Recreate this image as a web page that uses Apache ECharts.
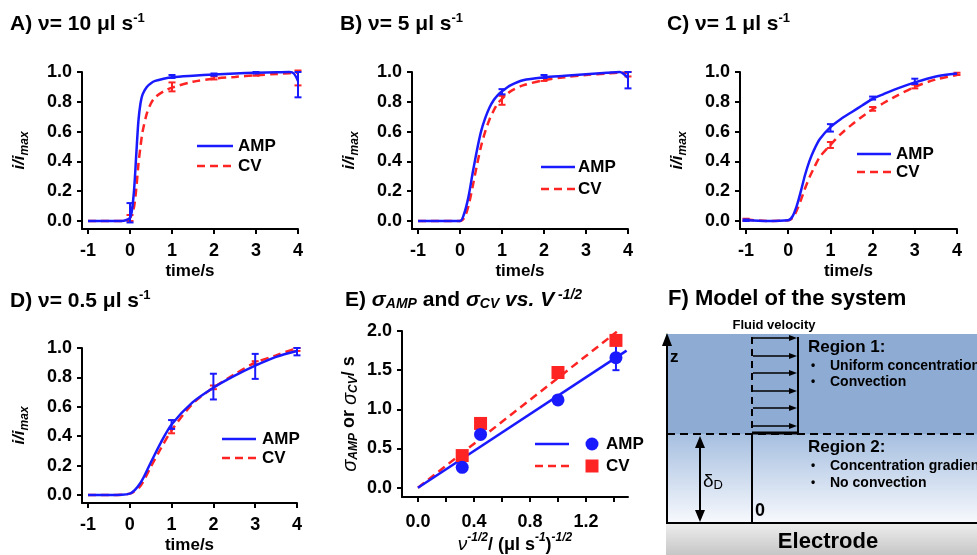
<!DOCTYPE html>
<html><head><meta charset="utf-8">
<script src="https://cdn.jsdelivr.net/npm/echarts@6/dist/echarts.min.js"></script>
<style>html,body{margin:0;padding:0;background:#fff}#c{width:977px;height:555px}</style>
</head><body><div id="c"></div>
<script>
// ---------- DATA ----------
const timeTicks = [-1, 0, 1, 2, 3, 4];
const ratioTicks = [0, 0.2, 0.4, 0.6, 0.8, 1.0];
const sigmaTicks = [0, 0.5, 1.0, 1.5, 2.0];
const invRootTicks = [0, 0.2, 0.4, 0.6, 0.8, 1.0, 1.2, 1.4];
const invRootLabels = [0, 0.4, 0.8, 1.2];

// Panel A: v = 10 ul/s
const tA   = [-1, -0.5, -0.2, -0.1, 0, 0.05, 0.1, 0.15, 0.2, 0.25, 0.3, 0.4, 0.5, 0.6, 0.8, 1, 1.5, 2, 2.5, 3, 3.5, 3.8, 3.9, 4];
const ampA = [0, 0, 0, 0.005, 0.02, 0.08, 0.22, 0.45, 0.67, 0.79, 0.85, 0.9, 0.925, 0.94, 0.955, 0.965, 0.975, 0.983, 0.99, 0.995, 0.998, 1.0, 0.99, 0.94];
const cvA  = [0, 0, 0, 0.003, 0.02, 0.05, 0.1, 0.22, 0.38, 0.5, 0.6, 0.72, 0.79, 0.83, 0.87, 0.895, 0.935, 0.955, 0.967, 0.978, 0.987, 0.992, 0.994, 0.995];
const ampErrA = [[0, -0.01, 0.12], [1, 0.96, 0.98], [2, 0.975, 0.99], [3, 0.99, 1.0], [4, 0.83, 1.0]];
const cvErrA  = [[0, 0.0, 0.04], [1, 0.87, 0.93], [2, 0.95, 0.97], [3, 0.975, 0.99], [4, 0.91, 1.01]];

// Panel B: v = 5 ul/s
const tB   = [-1, -0.5, 0, 0.1, 0.2, 0.3, 0.4, 0.5, 0.6, 0.7, 0.8, 0.9, 1, 1.2, 1.5, 2, 2.5, 3, 3.5, 3.8, 4];
const ampB = [0, 0, 0, 0.05, 0.16, 0.32, 0.47, 0.6, 0.69, 0.76, 0.81, 0.845, 0.87, 0.91, 0.945, 0.965, 0.975, 0.985, 0.995, 1.0, 0.96];
const cvB  = [0, 0, 0, 0.02, 0.1, 0.23, 0.37, 0.5, 0.6, 0.68, 0.74, 0.79, 0.82, 0.87, 0.91, 0.945, 0.965, 0.98, 0.99, 0.995, 0.995];
const ampErrB = [[1, 0.85, 0.885], [2, 0.96, 0.98], [4, 0.89, 1.0]];
const cvErrB  = [[1, 0.78, 0.84], [2, 0.94, 0.96], [4, 0.97, 1.0]];

// Panel C: v = 1 ul/s
const tC   = [-1, -0.5, 0, 0.1, 0.2, 0.3, 0.4, 0.5, 0.6, 0.75, 1, 1.25, 1.5, 1.75, 2, 2.25, 2.5, 3, 3.5, 4];
const ampC = [0.005, 0, 0.005, 0.03, 0.1, 0.2, 0.31, 0.4, 0.47, 0.55, 0.63, 0.685, 0.73, 0.775, 0.82, 0.85, 0.88, 0.93, 0.97, 0.99];
const cvC  = [0.01, 0, 0.005, 0.02, 0.07, 0.14, 0.22, 0.29, 0.35, 0.43, 0.51, 0.585, 0.645, 0.7, 0.75, 0.79, 0.83, 0.9, 0.95, 0.98];
const ampErrC = [[-1, 0.0, 0.01], [1, 0.6, 0.65], [2, 0.815, 0.835], [3, 0.92, 0.955]];
const cvErrC  = [[-1, 0.0, 0.015], [1, 0.49, 0.53], [2, 0.74, 0.765], [3, 0.89, 0.915], [4, 0.98, 0.995]];

// Panel D: v = 0.5 ul/s
const tD   = [-1, -0.5, 0, 0.25, 0.5, 0.75, 1, 1.5, 2, 2.5, 3, 3.5, 4];
const ampD = [0, 0, 0.01, 0.08, 0.22, 0.36, 0.48, 0.63, 0.73, 0.81, 0.88, 0.94, 0.98];
const cvD  = [0, 0, 0.01, 0.06, 0.19, 0.32, 0.44, 0.62, 0.73, 0.82, 0.9, 0.95, 1.0];
const ampErrD = [[1, 0.45, 0.51], [2, 0.65, 0.825], [3, 0.79, 0.96], [4, 0.95, 1.0]];
const cvErrD  = [[1, 0.42, 0.45], [2, 0.72, 0.745], [3, 0.89, 0.91], [4, 0.98, 1.0]];

// Panel E: sigma vs v^-1/2
const invRootV = [0.316, 0.447, 1.0, 1.414];
const sigmaAmp = [0.26, 0.68, 1.12, 1.66];
const sigmaCv  = [0.41, 0.82, 1.47, 1.88];
const sigmaAmpErr = [[1.414, 1.5, 1.82]];
const sigmaCvErr  = [[1.0, 1.4, 1.54]];
const fitAmpX = [0, 1.49], fitAmpY = [0, 1.75];
const fitCvX  = [0, 1.42], fitCvY  = [0, 1.99];

// ---------- STYLE ----------
const FF = 'Arial, "Liberation Sans", sans-serif';
const BLUE = '#1a1aff', RED = '#ff2424';
const zip = (xs, ys) => xs.map((x, i) => [x, ys[i]]);

const grids = [
  {left: 82, top: 72, width: 216, height: 157},
  {left: 412, top: 72, width: 216, height: 157},
  {left: 740, top: 72, width: 217, height: 157},
  {left: 82, top: 348, width: 215, height: 158},
  {left: 402, top: 331, width: 226, height: 173}
];

const lblStyle = {fontSize: 18, fontWeight: 'bold', color: '#000', fontFamily: FF};
const nmStyle = {fontSize: 17, fontWeight: 'bold', color: '#000', fontFamily: FF};
const axLine = {onZero: false, lineStyle: {color: '#000', width: 2}};
function tick(vals) { return {customValues: vals, length: 5, lineStyle: {color: '#000', width: 2}}; }

const xAxes = [], yAxes = [];
for (let i = 0; i < 4; i++) {
  xAxes.push({gridIndex: i, type: 'value', min: -1.143, max: 4,
    axisLine: axLine, axisTick: tick(timeTicks),
    axisLabel: Object.assign({customValues: timeTicks, formatter: v => String(v), margin: 13}, lblStyle),
    splitLine: {show: false},
    name: 'time/s', nameLocation: 'middle', nameGap: 34, nameTextStyle: nmStyle});
  yAxes.push({gridIndex: i, type: 'value', min: -0.054, max: 1.0,
    axisLine: axLine, axisTick: tick(ratioTicks),
    axisLabel: Object.assign({customValues: ratioTicks, formatter: v => v.toFixed(1), margin: 10}, lblStyle),
    splitLine: {show: false},
    name: '{i|i/i}{s|max}', nameLocation: 'middle', nameGap: 51,
    nameTextStyle: {rich: {
      i: {fontSize: 17, fontStyle: 'italic', fontWeight: 'bold', fontFamily: FF, color: '#000', lineHeight: 20, verticalAlign: 'top'},
      s: {fontSize: 12, fontStyle: 'italic', fontWeight: 'bold', fontFamily: FF, color: '#000', lineHeight: 12, padding: [10, 0, 0, 0], verticalAlign: 'bottom'}
    }}});
}
xAxes.push({gridIndex: 4, type: 'value', min: -0.114, max: 1.5,
  axisLine: axLine, axisTick: tick(invRootTicks),
  axisLabel: Object.assign({customValues: invRootLabels, formatter: v => v.toFixed(1), margin: 16}, lblStyle),
  splitLine: {show: false},
  name: '{v|ν}{p|-1/2}{b|/ (μl s}{p|-1}{b|)}{p|-1/2}', nameLocation: 'middle', nameGap: 30,
  nameTextStyle: {rich: {
    v: {fontSize: 19, fontStyle: 'italic', fontFamily: FF, color: '#000', lineHeight: 22, verticalAlign: 'bottom'},
    b: {fontSize: 18, fontWeight: 'bold', fontFamily: FF, color: '#000', lineHeight: 22, verticalAlign: 'bottom'},
    p: {fontSize: 12, fontStyle: 'italic', fontWeight: 'bold', fontFamily: FF, color: '#000', lineHeight: 12, padding: [0, 0, 10, 0], verticalAlign: 'top'}
  }}});
yAxes.push({gridIndex: 4, type: 'value', min: -0.12, max: 2.0,
  axisLine: axLine, axisTick: tick(sigmaTicks),
  axisLabel: Object.assign({customValues: sigmaTicks, formatter: v => v.toFixed(1), margin: 10}, lblStyle),
  splitLine: {show: false},
  name: '{s|σ}{u|AMP}{b| or }{s|σ}{u|CV}{b|/ s}', nameLocation: 'middle', nameGap: 42,
  nameTextStyle: {rich: {
    s: {fontSize: 20, fontStyle: 'italic', fontFamily: FF, color: '#000', lineHeight: 20, verticalAlign: 'top'},
    b: {fontSize: 18, fontWeight: 'bold', fontFamily: FF, color: '#000', lineHeight: 20, verticalAlign: 'top'},
    u: {fontSize: 12, fontStyle: 'italic', fontWeight: 'bold', fontFamily: FF, color: '#000', lineHeight: 12, padding: [10, 0, 0, 0], verticalAlign: 'bottom'}
  }}});

function errRender(params, api) {
  const x = api.value(0), lo = api.value(1), hi = api.value(2);
  const p1 = api.coord([x, lo]), p2 = api.coord([x, hi]);
  const w = 3.5;
  const style = {stroke: api.visual('color'), lineWidth: 2};
  return {type: 'group', children: [
    {type: 'line', shape: {x1: p1[0], y1: p1[1], x2: p2[0], y2: p2[1]}, style: style},
    {type: 'line', shape: {x1: p1[0] - w, y1: p1[1], x2: p1[0] + w, y2: p1[1]}, style: style},
    {type: 'line', shape: {x1: p2[0] - w, y1: p2[1], x2: p2[0] + w, y2: p2[1]}, style: style}
  ]};
}
function errSeries(idx, data, color) {
  return {type: 'custom', xAxisIndex: idx, yAxisIndex: idx, data: data, renderItem: errRender,
    encode: {x: 0, y: [1, 2]}, itemStyle: {color: color}, clip: false, silent: true, z: 3};
}
function curve(idx, name, xs, ys, color, dashed) {
  return {type: 'line', name: name, xAxisIndex: idx, yAxisIndex: idx, data: zip(xs, ys),
    showSymbol: false, symbol: 'none', smooth: 0.3, clip: false,
    lineStyle: {color: color, width: 2.5, type: dashed ? [8, 5] : 'solid'}, z: dashed ? 2 : 4};
}

const panels = [[tA, ampA, cvA, ampErrA, cvErrA], [tB, ampB, cvB, ampErrB, cvErrB],
                [tC, ampC, cvC, ampErrC, cvErrC], [tD, ampD, cvD, ampErrD, cvErrD]];
const series = [];
panels.forEach((p, i) => {
  series.push(curve(i, 'CV', p[0], p[2], RED, true));
  series.push(curve(i, 'AMP', p[0], p[1], BLUE, false));
  series.push(errSeries(i, p[4], RED));
  series.push(errSeries(i, p[3], BLUE));
});
series.push({type: 'line', name: 'CV fit', xAxisIndex: 4, yAxisIndex: 4, data: zip(fitCvX, fitCvY), symbol: 'none',
  lineStyle: {color: RED, width: 2.5, type: [8, 5]}});
series.push({type: 'line', name: 'AMP fit', xAxisIndex: 4, yAxisIndex: 4, data: zip(fitAmpX, fitAmpY), symbol: 'none',
  lineStyle: {color: BLUE, width: 2.5}});
series.push(errSeries(4, sigmaCvErr, RED));
series.push(errSeries(4, sigmaAmpErr, BLUE));
series.push({type: 'scatter', name: 'CV', xAxisIndex: 4, yAxisIndex: 4, data: zip(invRootV, sigmaCv), symbol: 'rect', symbolSize: 13, itemStyle: {color: RED, opacity: 1}, z: 5});
series.push({type: 'scatter', name: 'AMP', xAxisIndex: 4, yAxisIndex: 4, data: zip(invRootV, sigmaAmp), symbol: 'circle', symbolSize: 13, itemStyle: {color: BLUE, opacity: 1}, z: 5});

// ---------- GRAPHICS (titles, legends, model diagram) ----------
const G = [];
const titleRich = {
  a: {fontSize: 21, fontWeight: 'bold', fontFamily: FF, fill: '#000', lineHeight: 23, verticalAlign: 'bottom'},
  f: {fontSize: 22, fontWeight: 'bold', fontFamily: FF, fill: '#000', lineHeight: 23, verticalAlign: 'bottom'},
  g: {fontSize: 21, fontStyle: 'italic', fontWeight: 'bold', fontFamily: FF, fill: '#000', lineHeight: 23, verticalAlign: 'bottom'},
  u: {fontSize: 14, fontStyle: 'italic', fontWeight: 'bold', fontFamily: FF, fill: '#000', lineHeight: 14, verticalAlign: 'bottom'},
  p: {fontSize: 13, fontWeight: 'bold', fontFamily: FF, fill: '#000', lineHeight: 13, padding: [0, 0, 14, 0], verticalAlign: 'top'},
  q: {fontSize: 14, fontStyle: 'italic', fontWeight: 'bold', fontFamily: FF, fill: '#000', lineHeight: 14, padding: [0, 0, 14, 0], verticalAlign: 'top'}
};
function title(x, y, text) {
  G.push({type: 'text', x: x, y: y, z: 10, style: {text: text, rich: titleRich, align: 'left', verticalAlign: 'top'}});
}
title(10, 12, '{a|A) ν= 10 μl s}{p|-1}');
title(340, 12, '{a|B) ν= 5 μl s}{p|-1}');
title(667, 12, '{a|C) ν= 1 μl s}{p|-1}');
title(10, 289, '{a|D) ν= 0.5 μl s}{p|-1}');
title(345, 288, '{a|E) }{g|σ}{u|AMP}{a| and }{g|σ}{u|CV}{g| vs. V}{q| -1/2}');

function legendLine(x1, x2, y, color, dashed) {
  G.push({type: 'line', z: 10, shape: {x1: x1, y1: y, x2: x2, y2: y},
    style: {stroke: color, lineWidth: 2.5, lineDash: dashed ? [8, 5] : null}});
}
function legendText(x, y, t) {
  G.push({type: 'text', x: x, y: y, z: 10, style: {text: t, font: 'bold 17px ' + FF, fill: '#000', align: 'left', verticalAlign: 'middle'}});
}
function legendAC(x1, x2, xt, yA, yC) {
  legendLine(x1, x2, yA, BLUE, false); legendText(xt, yA, 'AMP');
  legendLine(x1, x2, yC, RED, true); legendText(xt, yC, 'CV');
}
legendAC(197, 233, 238, 146, 166);
legendAC(541, 575, 578, 167, 189);
legendAC(857, 891, 896, 154, 172);
legendAC(222, 256, 262, 439, 458);
legendLine(535, 569, 444, BLUE, false);
legendLine(535, 569, 466, RED, true);
G.push({type: 'circle', z: 10, shape: {cx: 592, cy: 444, r: 6.5}, style: {fill: BLUE}});
G.push({type: 'rect', z: 10, shape: {x: 585.5, y: 459.5, width: 13, height: 13}, style: {fill: RED}});
legendText(606, 444, 'AMP');
legendText(606, 466, 'CV');

// Panel F: model diagram
title(668, 287, '{f|F) Model of the system}');
G.push({type: 'rect', z: 1, shape: {x: 666, y: 334, width: 311, height: 100}, style: {fill: '#8eabd3'}});
G.push({type: 'rect', z: 1, shape: {x: 666, y: 434, width: 311, height: 89},
  style: {fill: new echarts.graphic.LinearGradient(0, 0, 0, 1, [{offset: 0, color: '#a6bfe0'}, {offset: 1, color: '#f7f9fd'}])}});
G.push({type: 'rect', z: 1, shape: {x: 666, y: 523, width: 311, height: 32},
  style: {fill: new echarts.graphic.LinearGradient(0, 0, 0, 1, [{offset: 0, color: '#eeeeee'}, {offset: 1, color: '#c6c6c6'}])}});
const blk = (w, dash) => ({stroke: '#000', lineWidth: w, lineDash: dash || null});
G.push({type: 'line', z: 2, shape: {x1: 666, y1: 523, x2: 977, y2: 523}, style: blk(2)});
G.push({type: 'line', z: 2, shape: {x1: 667, y1: 523, x2: 667, y2: 344}, style: blk(2)});
G.push({type: 'polygon', z: 2, shape: {points: [[667, 333], [662, 346], [672, 346]]}, style: {fill: '#000'}});
G.push({type: 'line', z: 2, shape: {x1: 667, y1: 434, x2: 977, y2: 434}, style: blk(2, [8, 5])});
G.push({type: 'line', z: 2, shape: {x1: 700, y1: 446, x2: 700, y2: 512}, style: blk(2)});
G.push({type: 'polygon', z: 2, shape: {points: [[700, 436], [695, 448], [705, 448]]}, style: {fill: '#000'}});
G.push({type: 'polygon', z: 2, shape: {points: [[700, 522], [695, 510], [705, 510]]}, style: {fill: '#000'}});
G.push({type: 'line', z: 2, shape: {x1: 752, y1: 433, x2: 752, y2: 523}, style: blk(2)});
G.push({type: 'line', z: 2, shape: {x1: 752, y1: 337, x2: 752, y2: 432}, style: blk(2, [7, 5])});
G.push({type: 'line', z: 2, shape: {x1: 798, y1: 337, x2: 798, y2: 434}, style: blk(2)});
G.push({type: 'line', z: 2, shape: {x1: 752, y1: 433, x2: 798, y2: 433}, style: blk(3)});
[338, 356, 373, 391, 408, 426].forEach(y => {
  G.push({type: 'line', z: 2, shape: {x1: 753, y1: y, x2: 790, y2: y}, style: blk(1.5)});
  G.push({type: 'polygon', z: 2, shape: {points: [[797, y], [789, y - 3], [789, y + 3]]}, style: {fill: '#000'}});
});
function ftext(x, y, t, font, align) {
  G.push({type: 'text', x: x, y: y, z: 3, style: {text: t, font: font + ' ' + FF, fill: '#000', align: align || 'left', verticalAlign: 'middle'}});
}
ftext(774, 325, 'Fluid velocity', 'bold 13px', 'center');
ftext(670, 357, 'z', 'bold 17px');
G.push({type: 'text', x: 703, y: 482, z: 3, style: {text: '{d|δ}{s|D}', align: 'left', verticalAlign: 'middle', rich: {
  d: {fontSize: 19, fontFamily: FF, fill: '#000', lineHeight: 20, verticalAlign: 'top'},
  s: {fontSize: 13, fontFamily: FF, fill: '#000', lineHeight: 13, padding: [9, 0, 0, 0], verticalAlign: 'bottom'}}}});
ftext(755, 511, '0', 'bold 18px');
ftext(808, 347, 'Region 1:', 'bold 17px');
ftext(811, 366, '•', 'bold 12px');
ftext(830, 366, 'Uniform concentration', 'bold 14px');
ftext(811, 382, '•', 'bold 12px');
ftext(830, 382, 'Convection', 'bold 14px');
ftext(808, 447, 'Region 2:', 'bold 17px');
ftext(811, 466, '•', 'bold 12px');
ftext(830, 466, 'Concentration gradient', 'bold 14px');
ftext(811, 483, '•', 'bold 12px');
ftext(830, 483, 'No convection', 'bold 14px');
ftext(828, 542, 'Electrode', 'bold 22px', 'center');

const chart = echarts.init(document.getElementById('c'), null, {renderer: 'canvas'});
chart.setOption({
  backgroundColor: '#fff',
  animation: false,
  grid: grids,
  xAxis: xAxes,
  yAxis: yAxes,
  series: series,
  graphic: G
});
</script></body></html>
